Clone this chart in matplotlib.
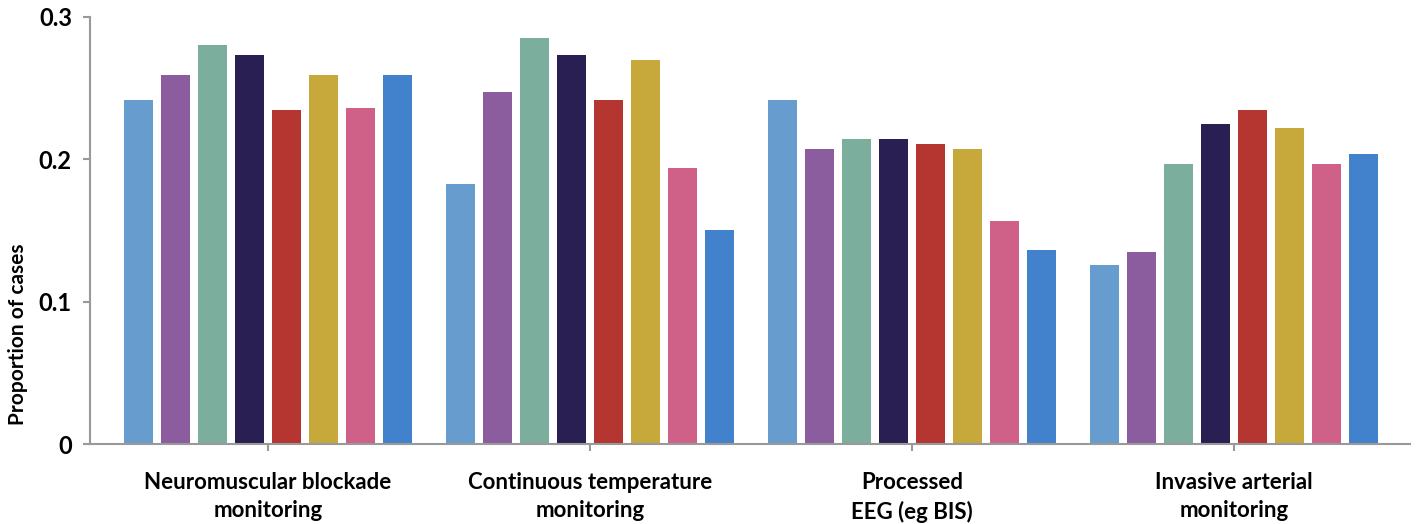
import numpy as np
import matplotlib.pyplot as plt

plt.rcParams["font.family"] = ["Lato", "DejaVu Sans"]

categories = ["Neuromuscular blockade\nmonitoring", "Continuous temperature\nmonitoring",
              "Processed\nEEG (eg BIS)", "Invasive arterial\nmonitoring"]
series = [
    [0.242, 0.183, 0.242, 0.126],
    [0.259, 0.247, 0.207, 0.135],
    [0.280, 0.285, 0.214, 0.197],
    [0.273, 0.273, 0.214, 0.225],
    [0.235, 0.242, 0.211, 0.235],
    [0.259, 0.270, 0.207, 0.222],
    [0.236, 0.194, 0.157, 0.197],
    [0.259, 0.150, 0.136, 0.204],
]
colors = ["#679CCE", "#8B5D9E", "#7BAE9C", "#2A1F52", "#B53531", "#C7A83B", "#CF6087", "#4282CC"]

fig = plt.figure(figsize=(14.19, 5.24), dpi=100)
ax = fig.add_axes([90 / 1419, 80 / 524, 1320 / 1419, 427 / 524])

x = np.arange(len(categories))
pitch = 0.1149
width = 0.09
for i, vals in enumerate(series):
    ax.bar(x + (i - 3.5) * pitch, vals, width=width, color=colors[i])

ax.set_xlim(-0.553, 3.547)
ax.set_ylim(0, 0.3)
ax.set_yticks([0, 0.1, 0.2, 0.3])
ax.set_yticklabels(["0", "0.1", "0.2", "0.3"], fontsize=17, fontweight="bold")
ax.set_xticks(x)
ax.set_xticklabels(categories, fontsize=16, fontweight="bold", linespacing=1.45)
ax.tick_params(axis="both", colors="#999999", length=5, width=1.5, labelcolor="black")
ax.tick_params(axis="x", pad=15)
ax.tick_params(axis="y", pad=8)
for s in ["top", "right"]:
    ax.spines[s].set_visible(False)
for s in ["left", "bottom"]:
    ax.spines[s].set_color("#999999")
    ax.spines[s].set_linewidth(1.5)
ax.set_ylabel("Proportion of cases", fontsize=15, fontweight="bold")
ax.yaxis.set_label_coords(-62 / 1320, 0.258)

fig.savefig("out.png", dpi=100)
